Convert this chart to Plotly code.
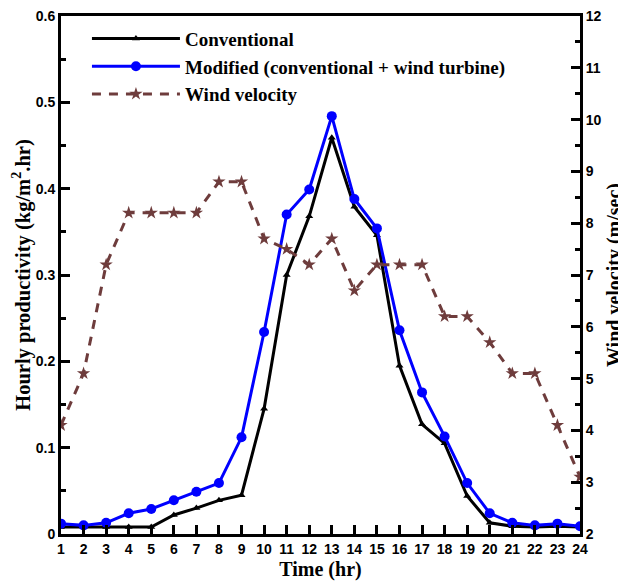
import plotly.graph_objects as go

hours = list(range(1, 25))
conventional = [0.008, 0.008, 0.008, 0.008, 0.008, 0.022, 0.030, 0.039, 0.045, 0.145,
                0.300, 0.368, 0.459, 0.379, 0.346, 0.195, 0.127, 0.105, 0.044, 0.013,
                0.009, 0.008, 0.009, 0.008]
modified = [0.012, 0.010, 0.013, 0.024, 0.029, 0.039, 0.049, 0.059, 0.112, 0.234,
            0.370, 0.399, 0.484, 0.388, 0.354, 0.236, 0.164, 0.113, 0.059, 0.024,
            0.013, 0.010, 0.012, 0.009]
wind = [4.1, 5.1, 7.2, 8.2, 8.2, 8.2, 8.2, 8.8, 8.8, 7.7,
        7.5, 7.2, 7.7, 6.7, 7.2, 7.2, 7.2, 6.2, 6.2, 5.7,
        5.1, 5.1, 4.1, 3.1]
left_ticks = [0, 0.1, 0.2, 0.3, 0.4, 0.5, 0.6]
left_labels = ["0", "0.1", "0.2", "0.3", "0.4", "0.5", "0.6"]
right_ticks = list(range(2, 13))

serif = "Liberation Serif"
sans = "Liberation Sans"
tickfont = dict(family=sans, size=14, color="black", weight="bold")
titlefont = dict(family=serif, size=20, color="black")

fig = go.Figure()
fig.add_trace(go.Scatter(
    x=hours, y=conventional, name="<b>Conventional</b>", mode="lines+markers",
    line=dict(color="black", width=3),
    marker=dict(symbol="triangle-up", size=7, color="black")))
fig.add_trace(go.Scatter(
    x=hours, y=modified, name="<b>Modified (conventional + wind turbine)</b>", mode="lines+markers",
    line=dict(color="#0000FF", width=3),
    marker=dict(symbol="circle", size=10, color="#0000FF")))
fig.add_trace(go.Scatter(
    x=hours, y=wind, name="<b>Wind velocity</b>", mode="lines+markers", yaxis="y2",
    line=dict(color="#6E3C3C", width=3, dash="9px,8px"),
    marker=dict(symbol="star", size=10, color="#6E3C3C")))

fig.update_layout(
    width=618, height=576,
    margin=dict(l=53, r=46, t=8, b=50),
    paper_bgcolor="white", plot_bgcolor="white",
    showlegend=True,
    legend=dict(x=0.05, y=0.993, xanchor="left", yanchor="top",
                font=dict(family=serif, size=19, color="black"),
                bgcolor="rgba(0,0,0,0)", itemwidth=88, tracegroupgap=0),
    xaxis=dict(
        range=[1, 24], tickmode="array", tickvals=hours, ticktext=[str(h) for h in hours],
        ticks="inside", ticklen=9, tickwidth=2.5, tickcolor="black",
        showline=True, linewidth=3, linecolor="black", mirror=True,
        showgrid=False, zeroline=False, automargin=False, ticklabeloverflow="allow",
        tickfont=tickfont,
        title=dict(text="<b>Time (hr)</b>", font=titlefont, standoff=7)),
    yaxis=dict(
        range=[0, 0.6], tickmode="array", tickvals=left_ticks, ticktext=left_labels,
        ticks="inside", ticklen=9, tickwidth=2.5, tickcolor="black",
        minor=dict(ticks="inside", ticklen=5, tickwidth=2.5, tickcolor="black", dtick=0.05, tick0=0, showgrid=False),
        showline=True, linewidth=3, linecolor="black",
        showgrid=False, zeroline=False, automargin=False, ticklabeloverflow="allow",
        tickfont=tickfont,
        title=dict(text="<b>Hourly productivity (kg/m<sup>2</sup>.hr)</b>",
                   font=dict(family=serif, size=20.5, color="black"), standoff=3)),
    yaxis2=dict(
        range=[2, 12], overlaying="y", side="right", tickmode="array",
        tickvals=right_ticks, ticktext=[str(v) for v in right_ticks],
        ticks="inside", ticklen=9, tickwidth=2.5, tickcolor="black",
        minor=dict(ticks="inside", ticklen=5, tickwidth=2.5, tickcolor="black", dtick=0.5, tick0=2, showgrid=False),
        showline=True, linewidth=3, linecolor="black",
        showgrid=False, zeroline=False, automargin=False, ticklabeloverflow="allow",
        tickfont=tickfont,
        title=dict(text="<b>Wind velocity (m/sec)</b>", font=titlefont, standoff=10)),
)

fig.write_html("out.html")
